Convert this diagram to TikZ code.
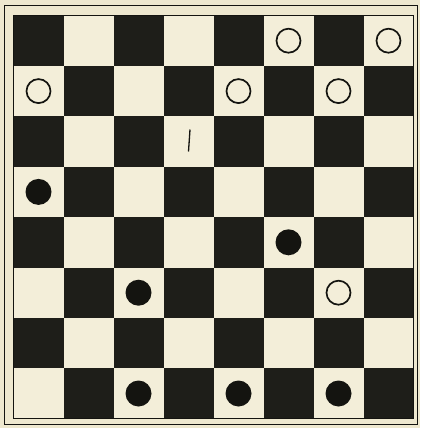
\documentclass[tikz,border=0pt]{standalone}
\usepackage{xcolor}
\usetikzlibrary{calc}
\definecolor{paper}{HTML}{EEE8CF}
\definecolor{lightsq}{HTML}{F3EED9}
\definecolor{darksq}{HTML}{1E1E19}
\definecolor{ink}{HTML}{141410}
\tikzset{
  darkcell/.style={fill=darksq, draw=none},
  lightcell/.style={fill=lightsq, draw=none},
  whitepiece/.style={circle, draw=ink, line width=1.7pt, minimum size=24pt, inner sep=0pt, fill=none},
  blackpiece/.style={circle, fill=ink, draw=none, minimum size=26pt, inner sep=0pt},
  frame/.style={draw=ink, line width=1.3pt}
}
\begin{document}
\begin{tikzpicture}[x=1pt,y=-1pt]
\fill[paper] (0,0) rectangle (420,428);
\useasboundingbox (0,0) rectangle (420,428);
\draw[frame] (4.5,5.5) rectangle (417.5,424.5);
% squares
\foreach \r in {1,...,8}{
  \foreach \c in {1,...,8}{
    \pgfmathtruncatemacro{\parity}{mod(\r+\c,2)}
    \ifnum\parity=0
      \path[darkcell] ({13.5+(\c-1)*50},{15.5+(\r-1)*50.4}) rectangle ({13.5+\c*50},{15.5+\r*50.4});
    \else
      \path[lightcell] ({13.5+(\c-1)*50},{15.5+(\r-1)*50.4}) rectangle ({13.5+\c*50},{15.5+\r*50.4});
    \fi
  }
}
\draw[draw=ink, line width=1pt] (13.5,15.5) rectangle (413.5,418.7);
% square centres
\foreach \r in {1,...,8}{
  \foreach \c in {1,...,8}{
    \coordinate (s\r\c) at ({13.5+(\c-0.5)*50},{15.5+(\r-0.5)*50.4});
  }
}
% white pieces
\node[whitepiece] (w1) at (s16) {};
\node[whitepiece] (w2) at (s18) {};
\node[whitepiece] (w3) at (s21) {};
\node[whitepiece] (w4) at (s25) {};
\node[whitepiece] (w5) at (s27) {};
\node[whitepiece] (w6) at (s67) {};
% black pieces
\node[blackpiece] (b1) at (s41) {};
\node[blackpiece] (b2) at (s56) {};
\node[blackpiece] (b3) at (s63) {};
\node[blackpiece] (b4) at (s83) {};
\node[blackpiece] (b5) at (s85) {};
\node[blackpiece] (b6) at (s87) {};
% small marks
\draw[ink, line width=1.3pt] ($(s34)+(1.5,-12)$) -- ($(s34)+(0,10)$);
\end{tikzpicture}
\end{document}
